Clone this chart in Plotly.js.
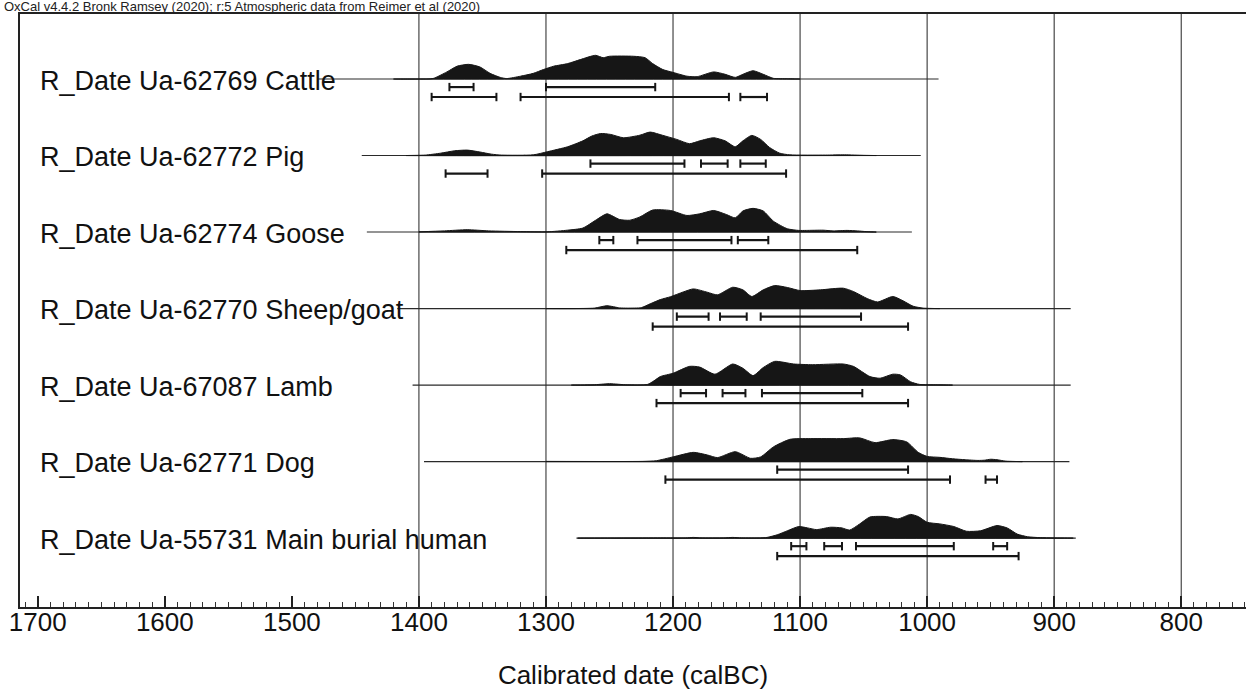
<!DOCTYPE html>
<html>
<head>
<meta charset="utf-8">
<script src="https://cdn.plot.ly/plotly-3.0.1.min.js"></script>
<style>html,body{margin:0;padding:0;background:#fff;}#chart{width:1246px;height:690px;}</style>
</head>
<body>
<div id="chart"></div>
<script>
// ---------- data ----------
const rowLabels = [
  "R_Date Ua-62769 Cattle",
  "R_Date Ua-62772 Pig",
  "R_Date Ua-62774 Goose",
  "R_Date Ua-62770 Sheep/goat",
  "R_Date Ua-67087 Lamb",
  "R_Date Ua-62771 Dog",
  "R_Date Ua-55731 Main burial human"
];
// baseline extent of each row (calBC)
const lineStart = [1480, 1445, 1441, 1417, 1405, 1396, 1276];
const lineEnd   = [991, 1005, 1012, 887, 887, 888, 883];

// relative probability (peak = 1)
const cattleYr = [1420,1399,1389,1378,1370,1361,1352,1344,1336,1331,1320,1310,1302,1294,1283,1273,1261,1255,1250,1231,1222,1216,1208,1200,1189,1181,1168,1159,1151,1145,1137,1129,1121,1110,1100];
const cattleP  = [0,0,0.02,0.3,0.54,0.62,0.51,0.24,0.07,0.02,0.12,0.24,0.4,0.54,0.65,0.82,1.0,0.9,0.96,0.96,0.9,0.65,0.4,0.28,0.12,0.1,0.3,0.2,0.07,0.2,0.35,0.2,0.03,0.01,0];

const pigYr = [1410,1395,1383,1372,1362,1352,1343,1335,1310,1299,1283,1271,1264,1257,1249,1239,1226,1218,1208,1197,1187,1179,1168,1159,1151,1145,1138,1131,1124,1116,1108,1080,1065,1050,1040];
const pigP  = [0,0.02,0.1,0.2,0.23,0.15,0.06,0.02,0.03,0.16,0.37,0.62,0.82,0.93,0.89,0.75,0.86,0.99,0.85,0.68,0.5,0.62,0.75,0.62,0.37,0.62,0.85,0.68,0.34,0.1,0.03,0.02,0.03,0.01,0];

const gooseYr = [1400,1380,1362,1345,1320,1299,1283,1271,1260,1252,1242,1234,1226,1216,1202,1189,1179,1168,1158,1151,1145,1137,1129,1121,1110,1101,1095,1082,1074,1063,1055,1048,1040];
const gooseP  = [0.01,0.05,0.1,0.05,0.02,0.01,0.08,0.17,0.53,0.77,0.53,0.5,0.64,0.93,0.91,0.7,0.77,0.91,0.74,0.6,0.89,1.0,0.89,0.46,0.14,0.07,0.07,0.08,0.05,0.07,0.05,0.02,0];

const sheepYr = [1300,1262,1252,1242,1236,1225,1218,1210,1202,1192,1184,1173,1165,1153,1145,1138,1129,1120,1110,1100,1084,1066,1058,1047,1039,1027,1019,1011,1003,990];
const sheepP  = [0,0.02,0.12,0.03,0.02,0.04,0.2,0.38,0.5,0.7,0.83,0.69,0.58,0.9,0.79,0.51,0.79,0.97,0.89,0.76,0.79,0.86,0.72,0.42,0.28,0.51,0.33,0.1,0.02,0];

const lambYr = [1280,1263,1250,1236,1220,1215,1210,1200,1187,1179,1167,1153,1145,1137,1129,1120,1105,1090,1066,1058,1045,1037,1027,1021,1013,1006,992,980];
const lambP  = [0,0.01,0.06,0.01,0.03,0.18,0.36,0.5,0.79,0.76,0.46,0.89,0.71,0.4,0.74,1.0,0.89,0.86,0.89,0.79,0.36,0.29,0.46,0.43,0.14,0.03,0.01,0];

const dogYr = [1300,1224,1213,1200,1184,1173,1165,1151,1139,1131,1121,1108,1092,1066,1053,1041,1027,1016,1007,1000,990,980,970,960,955,950,945,938,925];
const dogP  = [0.01,0.01,0.04,0.2,0.39,0.28,0.17,0.42,0.14,0.2,0.62,0.94,0.97,0.97,1.0,0.8,0.93,0.83,0.39,0.22,0.18,0.12,0.08,0.05,0.06,0.1,0.08,0.02,0];

const humanYr = [1275,1210,1190,1184,1178,1160,1153,1146,1131,1126,1118,1110,1101,1094,1087,1076,1067,1061,1053,1045,1032,1023,1013,1007,1000,990,979,969,958,945,937,929,921,911,901,885];
const humanP  = [0,0.01,0.01,0.03,0.01,0.01,0.03,0.01,0.01,0.03,0.14,0.31,0.49,0.43,0.36,0.46,0.43,0.34,0.6,0.89,0.91,0.81,1.0,0.91,0.67,0.6,0.49,0.29,0.31,0.53,0.43,0.17,0.06,0.02,0.01,0];

// highest-density ranges, pairs [from, to] (calBC)
const cattle68 = [1376,1357, 1300,1214];
const cattle95 = [1390,1339, 1320,1156, 1147,1126];
const pig68 = [1265,1191, 1178,1157, 1147,1127];
const pig95 = [1379,1346, 1303,1111];
const goose68 = [1258,1247, 1228,1154, 1149,1125];
const goose95 = [1284,1055];
const sheep68 = [1197,1172, 1163,1142, 1131,1052];
const sheep95 = [1216,1015];
const lamb68 = [1194,1174, 1161,1143, 1130,1051];
const lamb95 = [1213,1015];
const dog68 = [1118,1015];
const dog95 = [1206,982, 954,945];
const human68 = [1107,1095, 1081,1067, 1056,979, 948,937];
const human95 = [1118,928];

const gridYears = [1400,1300,1200,1100,1000,900,800];
const headerText = "OxCal v4.4.2 Bronk Ramsey (2020); r:5 Atmospheric data from Reimer et al (2020)";
const axisTitle = "Calibrated date (calBC)";

// ---------- build ----------
const dists = [
  [cattleYr, cattleP, cattle68, cattle95],
  [pigYr, pigP, pig68, pig95],
  [gooseYr, gooseP, goose68, goose95],
  [sheepYr, sheepP, sheep68, sheep95],
  [lambYr, lambP, lamb68, lamb95],
  [dogYr, dogP, dog68, dog95],
  [humanYr, humanP, human68, human95]
];

const H = 0.31;      // peak height in row units
const off68 = 0.105; // bracket offsets below baseline
const off95 = 0.235;
const ink = '#161616';
const FONT = 'Liberation Sans, Arial, sans-serif';

const traces = [];
const annotations = [];

function bracketTrace(pairs, yv) {
  const xs = [], ys = [];
  for (let k = 0; k < pairs.length; k += 2) {
    xs.push(pairs[k], pairs[k+1], null);
    ys.push(yv, yv, null);
  }
  return {
    x: xs, y: ys, type: 'scatter', mode: 'lines+markers',
    line: {color: ink, width: 2.2},
    marker: {symbol: 'line-ns', size: 6, line: {color: ink, width: 2}},
    hoverinfo: 'skip', showlegend: false, connectgaps: false
  };
}

dists.forEach((d, i) => {
  const base = -i;
  const [yr, p, r68, r95] = d;
  traces.push({
    x: [lineStart[i], lineEnd[i]], y: [base, base], type: 'scatter', mode: 'lines',
    line: {color: '#2a2a2a', width: 1.1}, hoverinfo: 'skip', showlegend: false
  });
  const px = yr.slice(), py = p.map(v => base + v * H);
  px.push(yr[yr.length-1], yr[0]); py.push(base, base);
  traces.push({
    x: px, y: py, type: 'scatter', mode: 'lines', fill: 'toself',
    fillcolor: ink, line: {color: ink, width: 1, shape: 'spline', smoothing: 0.6},
    hoverinfo: 'skip', showlegend: false
  });
  traces.push(bracketTrace(r68, base - off68));
  traces.push(bracketTrace(r95, base - off95));
  annotations.push({
    text: rowLabels[i], xref: 'paper', yref: 'y', x: 18/1226, y: base - 0.02,
    xanchor: 'left', yanchor: 'middle', showarrow: false,
    font: {family: FONT, size: 27, color: '#111'}
  });
});

annotations.push({
  text: headerText, xref: 'paper', yref: 'paper', x: -18/1226, y: 1 + 8/593,
  xanchor: 'left', yanchor: 'middle', showarrow: false,
  font: {family: FONT, size: 13, color: '#222'}
});

const shapes = gridYears.map(g => ({
  type: 'line', xref: 'x', yref: 'paper', x0: g, x1: g, y0: 0, y1: 1,
  line: {color: '#222', width: 1}, layer: 'below'
}));

const layout = {
  width: 1246, height: 690,
  margin: {l: 20, r: 0, t: 14, b: 83, pad: 0},
  paper_bgcolor: '#fff', plot_bgcolor: '#fff',
  showlegend: false,
  xaxis: {
    range: [1714, 749], tick0: 0, dtick: 100,
    showgrid: false, zeroline: false,
    showline: true, linewidth: 2, linecolor: '#222', mirror: true,
    ticks: 'inside', ticklen: 11, tickwidth: 2, tickcolor: '#222',
    minor: {dtick: 10, ticks: 'inside', ticklen: 5, tickwidth: 1, tickcolor: '#333', showgrid: false},
    tickfont: {family: FONT, size: 26, color: '#111'},
    ticklabelstandoff: -9,
    title: {text: axisTitle, font: {family: FONT, size: 26, color: '#111'}, standoff: 30},
    fixedrange: true
  },
  yaxis: {
    range: [-6.9, 0.85], showgrid: false, zeroline: false,
    showline: true, linewidth: 2, linecolor: '#222', mirror: false,
    ticks: '', showticklabels: false, fixedrange: true
  },
  shapes: shapes,
  annotations: annotations
};

Plotly.newPlot('chart', traces, layout, {displayModeBar: false, staticPlot: true});
</script>
</body>
</html>
